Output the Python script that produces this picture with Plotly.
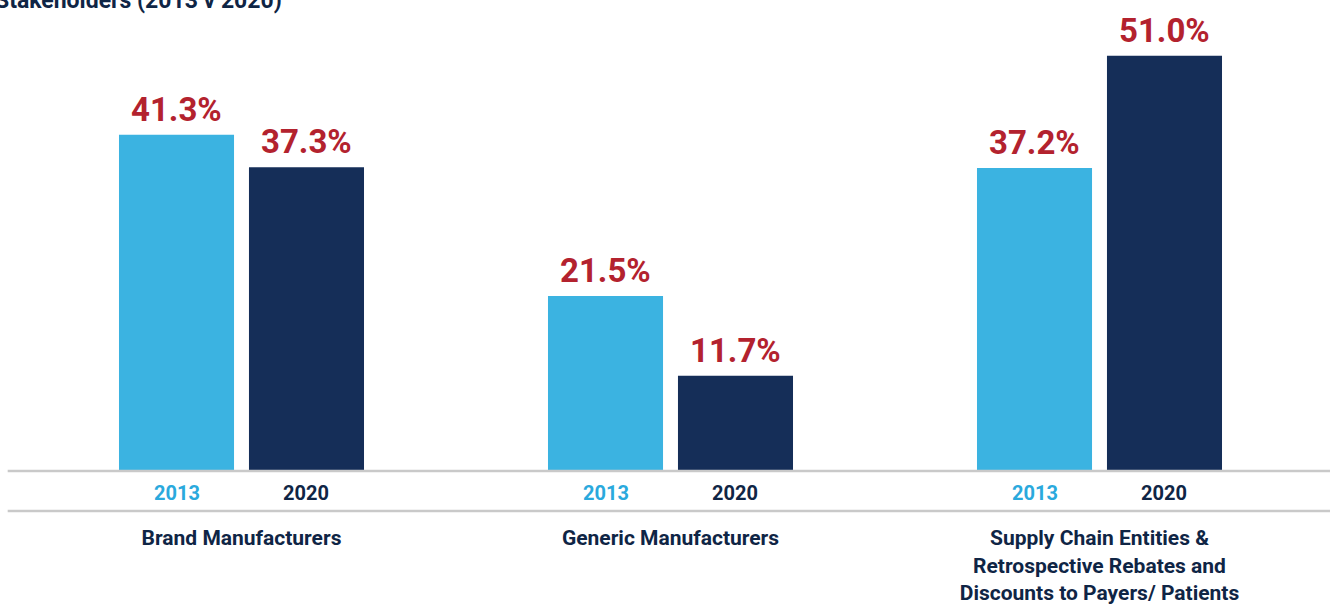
import plotly.graph_objects as go

categories = ["Brand Manufacturers", "Generic Manufacturers",
              "Supply Chain Entities &<br>Retrospective Rebates and<br>Discounts to Payers/ Patients"]
years = ["2013", "2020"]
values_2013 = [41.3, 21.5, 37.2]
values_2020 = [37.3, 11.7, 51.0]
title_text = "Stakeholders (2013 v 2020)"

LIGHT = "#3bb3e1"
NAVY = "#152e58"
RED = "#b3222e"
TXT = "#0f2545"
FONT = "Roboto, Arial"

W, H = 1330, 605
ML, MR, MT, MB = 27, 16, 15, 134
BARGAP, GROUPGAP = 0.394, 0.115
plot_w = W - ML - MR
plot_h = H - MT - MB
unit_px = plot_w / len(categories)
offset_px = unit_px * (1 - BARGAP) / 4

fig = go.Figure()
for yr, vals, col in [(years[0], values_2013, LIGHT), (years[1], values_2020, NAVY)]:
    fig.add_trace(go.Bar(x=categories, y=vals, name=yr, marker=dict(color=col, line=dict(width=0)),
                         hoverinfo="skip"))

annotations = []
for sign, yr, vals, col in [(-1, years[0], values_2013, "#2aa9dd"), (1, years[1], values_2020, TXT)]:
    for c, v in zip(categories, vals):
        annotations.append(dict(x=c, y=v, xref="x", yref="y", xshift=sign * offset_px, yshift=4,
                                text=f"{v:.1f}%", showarrow=False, yanchor="bottom",
                                font=dict(family=FONT, size=33, color=RED, weight="bold")))
        annotations.append(dict(x=c, y=-22 / plot_h, xref="x", yref="paper", xshift=sign * offset_px,
                                text=yr, showarrow=False, yanchor="middle",
                                font=dict(family=FONT, size=20, color=col, weight="bold")))

annotations.append(dict(x=(284 - ML) / plot_w, y=1, xref="paper", yref="paper", xanchor="right",
                        yanchor="bottom", yshift=-1, text=title_text, showarrow=False,
                        font=dict(family="Roboto, Arial", size=23, color=TXT, weight="bold")))

fig.update_layout(
    width=W, height=H, margin=dict(l=ML, r=MR, t=MT, b=MB),
    paper_bgcolor="white", plot_bgcolor="white",
    barmode="group", bargap=BARGAP, bargroupgap=GROUPGAP, showlegend=False,
    xaxis=dict(showgrid=False, zeroline=False, showline=False, ticks="outside", ticklen=48,
               automargin=False, tickcolor="rgba(0,0,0,0)",
               tickfont=dict(family=FONT, size=21, color=TXT, weight="bold")),
    yaxis=dict(range=[0, 56], visible=False, automargin=False),
    annotations=annotations,
    shapes=[
        dict(type="line", xref="paper", yref="paper", x0=-0.015, x1=1.02, y0=0, y1=0,
             line=dict(color="#c9c9c9", width=2.5), layer="above"),
        dict(type="line", xref="paper", yref="paper", x0=-0.015, x1=1.02, y0=-40 / plot_h, y1=-40 / plot_h,
             line=dict(color="#c9c9c9", width=2.5)),
    ],
)

fig.write_html("out.html")
